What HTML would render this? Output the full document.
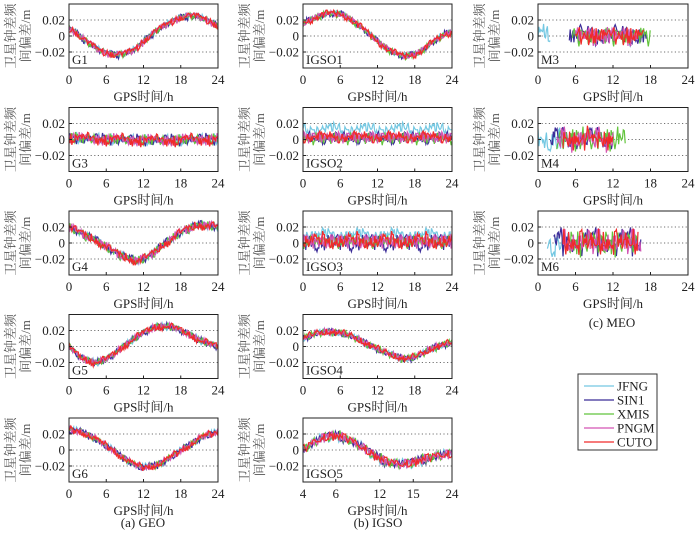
<!DOCTYPE html>
<html><head><meta charset="utf-8">
<style>
html,body{margin:0;padding:0;background:#fff;}
svg{display:block;font-family:"Liberation Serif","Noto Serif CJK SC",serif;}
</style></head>
<body>
<svg id="chart" width="700" height="539" viewBox="0 0 700 539"></svg>
<script>
// ---- data ----
const stations = ["JFNG","SIN1","XMIS","PNGM","CUTO"];
const stationColors = ["#74c8e2","#3b2c98","#62c43c","#d454b4","#f02a2a"];
const yTicks = [0.02, 0, -0.02];
const yTickLabels = ["0.02","0","\u22120.02"];
const xTicks = [0, 6, 12, 18, 24];
const xTickLabels = ["0","6","12","18","24"];
const igso5Ticks = [4, 8.4, 14.3, 18.8, 24];
const igso5TickLabels = ["4","6","12","15","24"];
// hourly trend (m), 25 values per panel (hour 0..24)
const trendG1 = [0.010,0.005,-0.002,-0.008,-0.013,-0.018,-0.021,-0.023,-0.023,-0.022,-0.019,-0.014,-0.007,0.000,0.006,0.011,0.016,0.020,0.023,0.025,0.025,0.024,0.021,0.017,0.012];
const trendG3 = [0.002,0.002,0.001,0.001,0.001,0.000,0.000,0.000,0.000,0.000,-0.001,-0.001,-0.001,-0.001,-0.001,-0.001,-0.001,-0.001,-0.001,0.000,0.000,0.000,0.000,0.000,0.000];
const trendG4 = [0.020,0.016,0.012,0.008,0.004,0.000,-0.005,-0.010,-0.014,-0.018,-0.021,-0.022,-0.020,-0.016,-0.010,-0.004,0.002,0.008,0.013,0.017,0.020,0.022,0.022,0.021,0.020];
const trendG5 = [0.000,-0.008,-0.014,-0.018,-0.020,-0.019,-0.016,-0.011,-0.005,0.001,0.007,0.012,0.017,0.021,0.024,0.025,0.025,0.023,0.020,0.016,0.012,0.008,0.005,0.002,0.000];
const trendG6 = [0.025,0.024,0.022,0.019,0.015,0.010,0.005,0.000,-0.006,-0.011,-0.016,-0.020,-0.022,-0.021,-0.019,-0.016,-0.011,-0.006,-0.001,0.004,0.009,0.014,0.018,0.020,0.022];
const trendIGSO1 = [0.015,0.019,0.023,0.026,0.028,0.028,0.027,0.024,0.019,0.013,0.007,0.000,-0.007,-0.013,-0.018,-0.022,-0.025,-0.025,-0.023,-0.019,-0.013,-0.007,-0.002,0.002,0.005];
const trendIGSO2 = [0.003,0.003,0.003,0.003,0.003,0.003,0.003,0.003,0.003,0.003,0.003,0.003,0.003,0.003,0.003,0.003,0.003,0.003,0.003,0.003,0.003,0.003,0.003,0.003,0.003];
const trendIGSO3 = [0.002,0.002,0.002,0.002,0.002,0.002,0.002,0.002,0.002,0.002,0.002,0.002,0.002,0.002,0.002,0.002,0.002,0.002,0.002,0.002,0.002,0.002,0.002,0.002,0.002];
const trendIGSO4 = [0.010,0.013,0.016,0.017,0.018,0.018,0.017,0.015,0.012,0.008,0.004,0.001,-0.003,-0.007,-0.010,-0.013,-0.015,-0.015,-0.013,-0.010,-0.006,-0.002,0.001,0.003,0.005];
const trendIGSO5 = [0,0,0,0,0.000,0.006,0.012,0.016,0.018,0.017,0.013,0.008,0.003,-0.003,-0.009,-0.014,-0.017,-0.018,-0.017,-0.015,-0.012,-0.010,-0.008,-0.006,-0.005];
const trendMEO = [0,0,0,0,0,0,0,0,0,0,0,0,0,0,0,0,0,0,0,0,0,0,0,0,0];
// hand-typed noise patterns (unitless, -1..1)
const noise0 = [0.3,-0.6,0.9,-0.2,0.5,-0.8,0.1,0.7,-0.4,0.6,-0.9,0.2,0.8,-0.3,-0.7,0.4,0.0,-0.5,0.9,-0.1,0.6,-0.8,0.3,-0.2,0.7,-0.6,0.5,0.1,-0.9,0.4,-0.3,0.8,-0.5,0.2,0.6,-0.7,0.0];
const noise1 = [-0.5,0.8,-0.1,0.4,-0.9,0.6,-0.3,0.2,0.9,-0.7,0.1,0.5,-0.4,0.7,-0.8,0.3,-0.2,0.6,-0.6,0.9,-0.1,0.4,-0.9,0.2,0.5,-0.3,0.8,-0.7,0.0,0.6,-0.5,0.3,-0.8,0.7,-0.2,0.1,0.4];
const noise2 = [0.6,-0.2,-0.8,0.5,0.1,-0.6,0.9,-0.4,0.3,-0.1,0.7,-0.9,0.4,0.2,-0.5,0.8,-0.7,0.0,0.5,-0.3,0.6,-0.4,-0.1,0.9,-0.8,0.2,0.3,-0.6,0.7,-0.2,0.1,-0.9,0.5,0.4,-0.3,0.8,-0.5];
const noise3 = [-0.2,0.5,-0.7,0.9,-0.4,0.1,0.6,-0.9,0.3,0.8,-0.5,-0.1,0.4,-0.6,0.7,-0.3,0.2,0.9,-0.8,0.0,0.5,-0.2,0.6,-0.7,0.1,0.8,-0.4,0.3,-0.9,0.6,0.2,-0.5,0.7,-0.1,-0.6,0.4,0.9];
const noise4 = [0.4,-0.9,0.2,0.6,-0.3,0.8,-0.6,0.1,-0.2,0.9,-0.5,0.3,-0.8,0.5,0.0,-0.4,0.7,-0.1,0.3,-0.7,0.8,0.1,-0.5,0.6,-0.9,0.4,-0.2,0.9,-0.3,0.2,-0.6,0.5,0.1,-0.8,0.7,-0.4,0.3];
const noises = [noise0,noise1,noise2,noise3,noise4];

// ---- layout ----
const COLS = [{l:69,r:218},{l:303,r:452},{l:538,r:688}];
const TOP0 = 4, PITCH = 103.5, PH = 64;
const panels = [
 {name:"G1",col:0,row:0,trend:trendG1,amp:0.005,x0:0,x1:24,spans:null,offs:[0,0,0,0,0]},
 {name:"G3",col:0,row:1,trend:trendG3,amp:0.008,x0:0,x1:24,spans:null,offs:[0,0,0,0,0]},
 {name:"G4",col:0,row:2,trend:trendG4,amp:0.006,x0:0,x1:24,spans:null,offs:[0,0,0,0,0]},
 {name:"G5",col:0,row:3,trend:trendG5,amp:0.005,x0:0,x1:24,spans:null,offs:[0,0,0,0,0]},
 {name:"G6",col:0,row:4,trend:trendG6,amp:0.005,x0:0,x1:24,spans:null,offs:[0,0,0,0,0]},
 {name:"IGSO1",col:1,row:0,trend:trendIGSO1,amp:0.005,x0:0,x1:24,spans:null,offs:[0,0,0,0,0]},
 {name:"IGSO2",col:1,row:1,trend:trendIGSO2,amp:0.008,x0:0,x1:24,spans:null,offs:[0.010,-0.002,-0.002,0,0]},
 {name:"IGSO3",col:1,row:2,trend:trendIGSO3,amp:0.012,x0:0,x1:24,spans:null,offs:[0.007,-0.002,0,0,0]},
 {name:"IGSO4",col:1,row:3,trend:trendIGSO4,amp:0.005,x0:0,x1:24,spans:null,offs:[0,0,0,0,0]},
 {name:"IGSO5",col:1,row:4,trend:trendIGSO5,amp:0.007,x0:4,x1:24,spans:[[4,24],[4,24],[4,24],[4,24],[4,24]],offs:[0,0,0,0,0]},
 {name:"M3",col:2,row:0,trend:trendMEO,amp:0.014,x0:0,x1:24,spans:[[0,2],[5,17.5],[5.5,18],[6,16],[6,17]],offs:[0,0,0,0,0]},
 {name:"M4",col:2,row:1,trend:trendMEO,amp:0.016,x0:0,x1:24,spans:[[0,4],[2,12],[3,14],[3,12],[4,12]],offs:[0,0,0,0,0]},
 {name:"M6",col:2,row:2,trend:trendMEO,amp:0.018,x0:0,x1:24,spans:[[1.5,5],[2.5,16.5],[5,16],[4,16.5],[4,16]],offs:[0,0,0,0,0]}
];

const NS = "http://www.w3.org/2000/svg";
const svg = document.getElementById("chart");
function mk(tag, attrs, parent){const e=document.createElementNS(NS,tag);for(const k in attrs)e.setAttribute(k,attrs[k]);(parent||svg).appendChild(e);return e;}
function txt(s,attrs,parent){const t=mk("text",attrs,parent);t.textContent=s;return t;}

panels.forEach((p,pi)=>{
  const c=COLS[p.col], top=TOP0+PITCH*p.row, bot=top+PH;
  const g=mk("g",{});
  
  
  const xs=v=>c.l+(v-p.x0)/(p.x1-p.x0)*(c.r-c.l);
  const ys=v=>top+PH/2 - v/0.04*(PH/2);
  const clipId="clip"+pi;
  const cp=mk("clipPath",{id:clipId},g); mk("rect",{x:c.l,y:top,width:c.r-c.l,height:PH},cp);
  yTicks.forEach(v=>{
    const gl=mk("line",{x1:c.l,x2:c.r,y1:ys(v),y2:ys(v),stroke:"#444","stroke-width":0.8,"stroke-dasharray":"1.2,2.4"},g);
    
    
  });
  const dataG=mk("g",{"clip-path":"url(#"+clipId+")"},g);
  stations.forEach((s,k)=>{
    const span=p.spans?p.spans[k]:[p.x0,p.x1];
    const nz=noises[k], nz2=noises[(k+2)%5]; let pts=[];
    const step=0.15;
    for(let t=span[0],i=0;t<=span[1]+1e-9;t+=step,i++){
      const h=Math.floor(t), f=t-h;
      const a=p.trend[Math.min(h,24)], b=p.trend[Math.min(h+1,24)];
      const base=a+(b-a)*f;
      const n=0.7*nz[(i*7+pi*5+k*3)%nz.length]+0.5*nz2[(i*5+pi*3+k)%nz2.length];
      const v=base+p.offs[k]+n*p.amp;
      pts.push(xs(t).toFixed(1)+","+ys(v).toFixed(1));
    }
    const pl=mk("polyline",{points:pts.join(" "),fill:"none",stroke:stationColors[k],"stroke-width":1.2},dataG);
    
    
  });
  const fr=mk("rect",{x:c.l,y:top,width:c.r-c.l,height:PH,fill:"none",stroke:"#222","stroke-width":1},g);
  
  
  yTicks.forEach((v,i)=>{
    mk("line",{x1:c.l,x2:c.l+3,y1:ys(v),y2:ys(v),stroke:"#222"},g);
    const t=txt(yTickLabels[i],{x:c.l-4,y:ys(v)+4.5,"text-anchor":"end","font-size":13,fill:"#222"},g);
    
    
  });
  const tv=p.name==="IGSO5"?igso5Ticks:xTicks, tl=p.name==="IGSO5"?igso5TickLabels:xTickLabels;
  tv.forEach((v,i)=>{
    mk("line",{x1:xs(v),x2:xs(v),y1:bot,y2:bot-3,stroke:"#222"},g);
    const t=txt(tl[i],{x:xs(v),y:bot+16,"text-anchor":"middle","font-size":13,fill:"#222"},g);
    
    
  });
  const xl=txt("GPS时间/h",{x:(c.l+c.r)/2,y:bot+33,"text-anchor":"middle","font-size":13,fill:"#222"},g);
  
  
  const yl=txt("",{transform:"translate("+(c.l-54)+","+(top+PH/2)+") rotate(-90)","text-anchor":"middle","font-size":13,fill:"#555"},g);
  
  
  const t1=mk("tspan",{x:0,y:0},yl); t1.textContent="卫星钟差频";
  const t2=mk("tspan",{x:0,y:15},yl); t2.textContent="间偏差/m";
  const lb=txt(p.name,{x:c.l+3,y:bot-4,"font-size":13,fill:"#222"},g);
  
  
});

[["(a) GEO",143,527],["(b) IGSO",378,527],["(c) MEO",612,327]].forEach(c=>{
  const t=txt(c[0],{x:c[1],y:c[2],"text-anchor":"middle","font-size":13,fill:"#222"});
  
  
});

const lg=mk("g",{});


mk("rect",{x:578,y:374,width:79,height:76,fill:"#fff",stroke:"#333","stroke-width":1},lg);
stations.forEach((s,k)=>{
  const y=386+k*14;
  const e=mk("g",{},lg);
  
  
  mk("line",{x1:584,x2:614,y1:y,y2:y,stroke:stationColors[k],"stroke-width":1.2},e);
  txt(s,{x:617,y:y+4.5,"font-size":13,fill:"#222"},e);
});
</script>
</body></html>
